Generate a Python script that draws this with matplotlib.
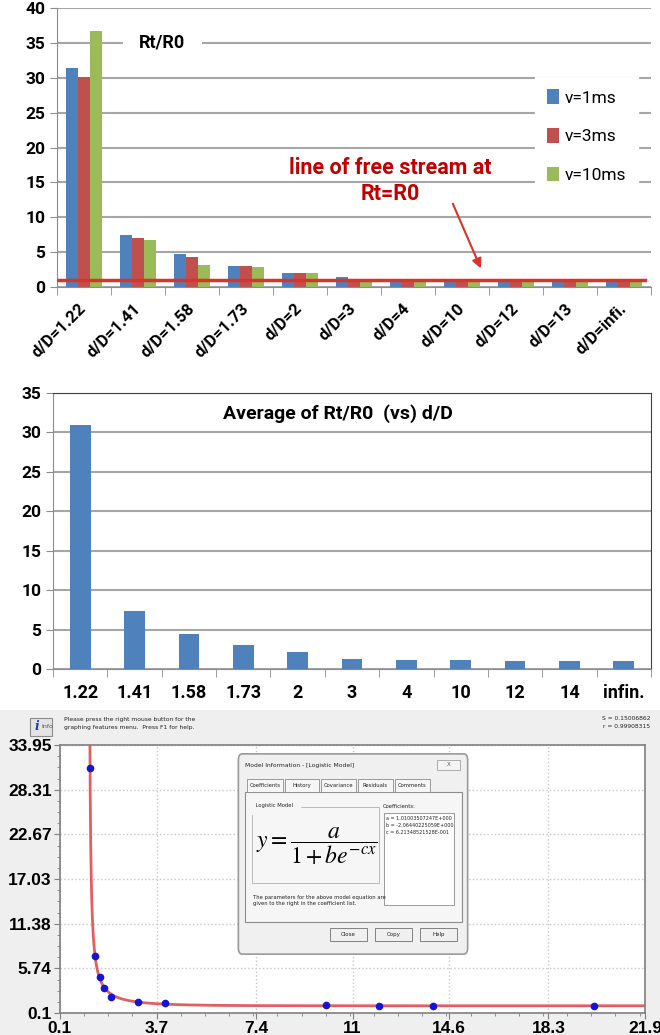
import numpy as np
import matplotlib.pyplot as plt
from matplotlib.patches import Rectangle, FancyBboxPatch
from matplotlib.ticker import AutoMinorLocator
from matplotlib.transforms import ScaledTranslation

# ---- data ----
cats = ['d/D=1.22', 'd/D=1.41', 'd/D=1.58', 'd/D=1.73', 'd/D=2', 'd/D=3',
        'd/D=4', 'd/D=10', 'd/D=12', 'd/D=13', 'd/D=infi.']
v1 = [31.4, 7.4, 4.7, 3.0, 2.0, 1.4, 1.0, 1.0, 1.0, 1.0, 1.0]
v3 = [30.1, 7.0, 4.3, 3.0, 2.0, 1.2, 1.0, 1.0, 1.0, 1.0, 1.0]
v10 = [36.7, 6.8, 3.1, 2.8, 2.0, 1.0, 1.0, 1.0, 1.0, 1.0, 1.0]
free_stream = 1.05

avg_labels = ['1.22', '1.41', '1.58', '1.73', '2', '3', '4', '10', '12', '14', 'infin.']
avg = [31.0, 7.3, 4.5, 3.1, 2.2, 1.3, 1.1, 1.1, 1.0, 1.0, 1.0]

fit_x = [1.22, 1.41, 1.58, 1.73, 2, 3, 4, 10, 12, 14, 20]
fit_y = [31.0, 7.35, 4.6, 3.2, 2.15, 1.45, 1.3, 1.12, 1.0, 1.0, 1.0]
# logistic model coefficients shown in the dialog
a, b, c = 1.01003507247, -2.06440225059, 0.621348521528
coef_txt = ['a = 1.01003507247E+000', 'b = -2.06440225059E+000', 'c = 6.21348521528E-001']
xt3 = [0.1, 3.7, 7.4, 11, 14.6, 18.3, 21.9]
yt3 = [0.1, 5.74, 11.38, 17.03, 22.67, 28.31, 33.95]

W, H = 660, 1035
BLUE, RED, GREEN = '#4f81bd', '#c0504d', '#9bbb59'
GRID = '#a6a6a6'
CAL = 'Roboto'


def box(l, t, r, btm):
    # pixel box -> figure rect
    return [l / W, 1 - btm / H, (r - l) / W, (btm - t) / H]


fig = plt.figure(figsize=(6.6, 10.35), dpi=100)

# ---------- panel 1 ----------
ax1 = fig.add_axes(box(57, 8, 651, 287))
x = np.arange(len(cats))
w = 0.22
ax1.bar(x - w, v1, w, color=BLUE, label='v=1ms', zorder=2)
ax1.bar(x, v3, w, color=RED, label='v=3ms', zorder=2)
ax1.bar(x + w, v10, w, color=GREEN, label='v=10ms', zorder=2)
ax1.axhline(free_stream, xmin=0, xmax=0.99, color='#d9342b', lw=2.5, zorder=3)
ax1.set_xlim(-0.5, len(cats) - 0.5)
ax1.set_ylim(0, 40)
ax1.set_yticks(range(0, 41, 5))
ax1.yaxis.grid(True, color=GRID, lw=1.5, zorder=0)
ax1.set_axisbelow(True)
for s in ['top', 'right']:
    ax1.spines[s].set_visible(False)
for s in ['left', 'bottom']:
    ax1.spines[s].set_color('#8c8c8c')
ax1.set_xticks(x)
ax1.set_xticklabels(cats, rotation=45, ha='right', va='center', rotation_mode='anchor',
                    fontsize=12, fontweight='bold', family=CAL)
shift = ScaledTranslation(-4 / 100, -2 / 100, fig.dpi_scale_trans)
for t in ax1.get_xticklabels():
    t.set_transform(t.get_transform() + shift)
ax1.set_xticks(np.arange(-0.5, len(cats), 1), minor=True)
ax1.tick_params(axis='x', which='major', length=0, pad=14)
ax1.tick_params(axis='x', which='minor', length=6, color='#8c8c8c')
ax1.tick_params(axis='y', length=5, color='#8c8c8c')
for t in ax1.get_yticklabels():
    t.set_fontsize(12.5)
    t.set_fontweight('bold')
    t.set_family(CAL)
ax1.text(1.45, 35, 'Rt/R0', fontsize=13, fontweight='bold', family=CAL,
         ha='center', va='center', zorder=3,
         bbox=dict(fc='white', ec='none', boxstyle='square,pad=0.9'))
leg = ax1.legend(loc='center left', bbox_to_anchor=(0.79, 0.54), frameon=True,
                 fancybox=False, edgecolor='white', framealpha=1,
                 prop=dict(family=CAL, size=12.5), labelspacing=1.3,
                 handlelength=0.7, handleheight=0.9, handletextpad=0.3, borderpad=0.7)
ax1.text(5.68, 15.2, 'line of free stream at\nRt=R0', color='#c00000', fontsize=15.5,
         fontweight='bold', family=CAL, ha='center', va='center', linespacing=1.25)
ax1.annotate('', xy=(7.37, 2.3), xytext=(6.81, 12.3),
             arrowprops=dict(arrowstyle='-|>', color='#d9342b', lw=1.5, mutation_scale=14))

# ---------- panel 2 ----------
ax2 = fig.add_axes(box(53, 393, 651, 669))
ax2.bar(x, avg, 0.38, color=BLUE, zorder=2)
ax2.set_xlim(-0.5, len(avg_labels) - 0.5)
ax2.set_ylim(0, 35)
ax2.set_yticks(range(0, 36, 5))
ax2.yaxis.grid(True, color=GRID, lw=1.5, zorder=0)
ax2.set_axisbelow(True)
for s in ['left', 'bottom']:
    ax2.spines[s].set_color('#8c8c8c')
for s in ['top', 'right']:
    ax2.spines[s].set_color('#404040')
ax2.set_xticks(x)
ax2.set_xticklabels(avg_labels, fontsize=13, fontweight='bold', family=CAL)
ax2.set_xticks(np.arange(-0.5, len(avg_labels), 1), minor=True)
ax2.tick_params(axis='x', which='major', length=0, pad=11)
ax2.tick_params(axis='x', which='minor', length=6, color='#8c8c8c')
ax2.tick_params(axis='y', length=5, color='#8c8c8c')
for t in ax2.get_yticklabels():
    t.set_fontsize(12.5)
    t.set_fontweight('bold')
    t.set_family(CAL)
ax2.text(0.477, 0.925, 'Average of Rt/R0  (vs) d/D', transform=ax2.transAxes,
         fontsize=14, fontweight='bold', family=CAL, ha='center', va='center')

# ---------- panel 3 ----------
fig.patches.append(Rectangle((0, 0), 1, 1 - 710 / H, transform=fig.transFigure,
                             fc='#efefef', ec='none', zorder=-5))
ax3 = fig.add_axes(box(60, 745, 645, 1013))
ax3.set_facecolor('white')
xs = -np.log(-1 / b) / c + np.geomspace(0.03, 21.0, 800)
ys = a / (1 + b * np.exp(-c * xs))
ax3.plot(xs, ys, color='#e06060', lw=2, zorder=2)
ax3.plot(fit_x, fit_y, 'o', color='#1414d8', ms=4.5, zorder=3)
ax3.set_xlim(0.1, 21.9)
ax3.set_ylim(0.1, 33.95)
ax3.set_xticks(xt3)
ax3.set_yticks(yt3)
ax3.set_xticklabels([str(v) for v in xt3])
ax3.set_yticklabels([f'{v:g}' for v in yt3])
ax3.xaxis.set_minor_locator(AutoMinorLocator(4))
ax3.yaxis.set_minor_locator(AutoMinorLocator(4))
ax3.grid(True, which='major', color='#c8c8c8', ls=':', lw=1)
for s in ax3.spines.values():
    s.set_color('#7f7f7f')
    s.set_linewidth(1.2)
ax3.tick_params(which='major', length=4, color='#7f7f7f', pad=2)
ax3.tick_params(which='minor', length=2, color='#7f7f7f')
for t in ax3.get_xticklabels() + ax3.get_yticklabels():
    t.set_fontsize(12.5)
    t.set_fontweight('bold')
    t.set_family('Liberation Sans')

# header strip
fig.patches.append(Rectangle((30 / W, 1 - 736 / H), 22 / W, 18 / H, transform=fig.transFigure,
                             fc='#e4e4e4', ec='#8c8c8c', lw=0.8))
fig.text(37 / W, 1 - 727 / H, 'i', color='#1f3fbf', fontsize=9, fontweight='bold',
         style='italic', family='DejaVu Serif', ha='center', va='center')
fig.text(41 / W, 1 - 727 / H, 'Info', color='#555555', fontsize=4.5, va='center')
fig.text(64 / W, 1 - 719 / H, 'Please press the right mouse button for the', fontsize=4.3,
         va='center', color='#222222')
fig.text(64 / W, 1 - 727 / H, 'graphing features menu.  Press F1 for help.', fontsize=4.3,
         va='center', color='#222222')
fig.text(650 / W, 1 - 719 / H, 'S = 0.15006862', fontsize=4.3, va='center', ha='right', color='#222222')
fig.text(650 / W, 1 - 727 / H, 'r = 0.99908315', fontsize=4.3, va='center', ha='right', color='#222222')


# dialog window
def frect(l, t, r, btm, **kw):
    fig.patches.append(Rectangle((l / W, 1 - btm / H), (r - l) / W, (btm - t) / H,
                                 transform=fig.transFigure, **kw))


def ftext(px, py, s, **kw):
    kw.setdefault('fontsize', 4.3)
    kw.setdefault('color', '#222222')
    kw.setdefault('va', 'center')
    fig.text(px / W, 1 - py / H, s, **kw)


fig.patches.append(FancyBboxPatch((241 / W, 1 - 950 / H), 224 / W, 192 / H,
                                  boxstyle='round,pad=0.004,rounding_size=0.006',
                                  transform=fig.transFigure, fc='#f0f0f0', ec='#9a9a9a', lw=1.2,
                                  zorder=4))
ftext(245, 766, 'Model Information - [Logistic Model]', zorder=6)
frect(437, 760, 460, 770, fc='#f4f4f4', ec='#a0a0a0', lw=0.6, zorder=5)
ftext(448.5, 765, 'X', ha='center', fontsize=4, color='#555555', zorder=6)
frect(245, 792, 462, 922, fc='#f6f6f6', ec='#8c8c8c', lw=0.8, zorder=5)
tabs = [('Coefficients', 247, 283), ('History', 285, 319), ('Covariance', 321, 356),
        ('Residuals', 358, 393), ('Comments', 395, 430)]
for name, l, r in tabs:
    frect(l, 779, r, 792, fc='#f6f6f6', ec='#8c8c8c', lw=0.6, zorder=5)
    ftext((l + r) / 2, 785.5, name, ha='center', fontsize=3.8, zorder=6)
frect(252, 807, 379, 883, fc='none', ec='#b0b0b0', lw=0.6, zorder=5)
ftext(254, 806, ' Logistic Model ', fontsize=3.8, zorder=6, backgroundcolor='#f6f6f6')
ftext(317, 846, r'$y=\dfrac{a}{1+be^{-cx}}$', ha='center', fontsize=17, color='black',
      math_fontfamily='stix', zorder=6)
ftext(383, 806, 'Coefficients:', fontsize=3.8, zorder=6)
frect(384, 813, 454, 905, fc='white', ec='#8c8c8c', lw=0.6, zorder=5)
for i, s in enumerate(coef_txt):
    ftext(386, 819 + 6.5 * i, s, fontsize=3.5, zorder=6)
ftext(253, 897, 'The parameters for the above model equation are', fontsize=3.8, zorder=6)
ftext(253, 904, 'given to the right in the coefficient list.', fontsize=3.8, zorder=6)
for name, l, r in [('Close', 330, 367), ('Copy', 375, 412), ('Help', 420, 457)]:
    frect(l, 928, r, 941, fc='#f0f0f0', ec='#707070', lw=0.6, zorder=5)
    ftext((l + r) / 2, 934.5, name, ha='center', fontsize=4, zorder=6)

fig.savefig('out.png', dpi=100)
